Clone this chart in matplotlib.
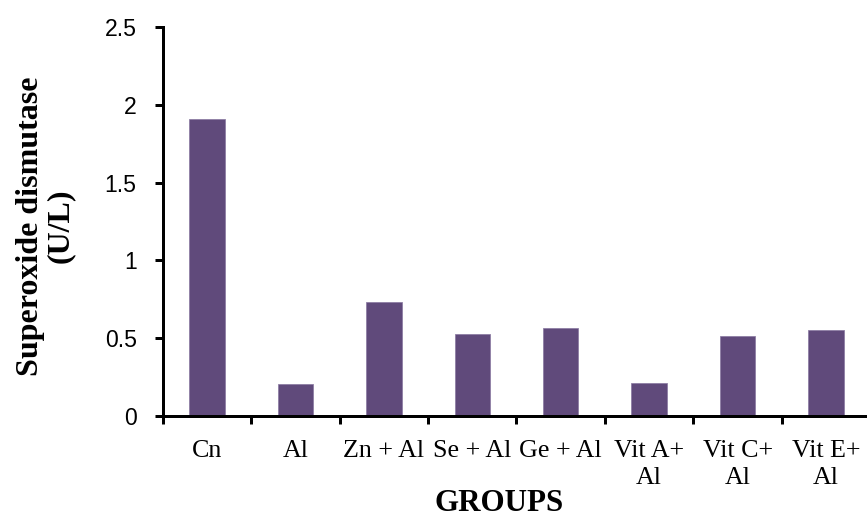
import matplotlib
matplotlib.use("Agg")
import matplotlib.pyplot as plt
import numpy as np

# groups and SOD activity (U/L)
grupos = ["Cn", "Al", "Zn + Al", "Se + Al", "Ge + Al", "Vit A+\nAl", "Vit C+\nAl", "Vit E+\nAl"]
sod = [1.91, 0.205, 0.73, 0.528, 0.568, 0.21, 0.511, 0.552]

cor_barra = "#604A7B"
serif = ["Liberation Serif", "DejaVu Serif"]
sans = ["Liberation Sans", "DejaVu Sans"]

fig = plt.figure(figsize=(867 / 72, 517 / 72), dpi=72)
ax = fig.add_axes([162.7 / 867, 1 - 416 / 517, 707.6 / 867, 389 / 517])

x = np.arange(len(grupos))
ax.bar(x, sod, width=0.4, color=cor_barra, edgecolor="#8C7DA3", linewidth=0.8, zorder=2)

ax.set_xlim(-0.5, len(grupos) - 0.5)
ax.set_ylim(0, 2.5)

# eixo y
ax.set_yticks(np.arange(0, 2.51, 0.5))
ax.set_yticklabels(["0", "0.5", "1", "1.5", "2", "2.5"], fontsize=23, family=sans)

# eixo x: rótulos no centro, marcas nas divisões
ax.set_xticks(x)
ax.set_xticklabels(grupos, fontsize=26, family=serif, linespacing=1.28)
ax.set_xticks(np.arange(-0.5, len(grupos)), minor=True)
ax.tick_params(axis="x", which="major", length=0, pad=24)
ax.tick_params(axis="x", which="minor", length=8, width=3, direction="out")
ax.tick_params(axis="y", length=8, width=3, direction="out", pad=18)

for lado in ["top", "right"]:
    ax.spines[lado].set_visible(False)
ax.spines["left"].set_linewidth(3)
ax.spines["bottom"].set_linewidth(3)

ax.set_xlabel("GROUPS", fontsize=31, fontweight="bold", family=serif)
ax.xaxis.set_label_coords(0.475, -0.226)
ax.xaxis.label.set_va("center")
ax.set_ylabel("Superoxide dismutase\n(U/L)", fontsize=32, fontweight="bold",
              family=serif, linespacing=1.05, multialignment="center")
ax.yaxis.set_label_coords(-0.166, 0.488)
ax.yaxis.label.set_va("center")

fig.savefig("out.png", dpi=72)
